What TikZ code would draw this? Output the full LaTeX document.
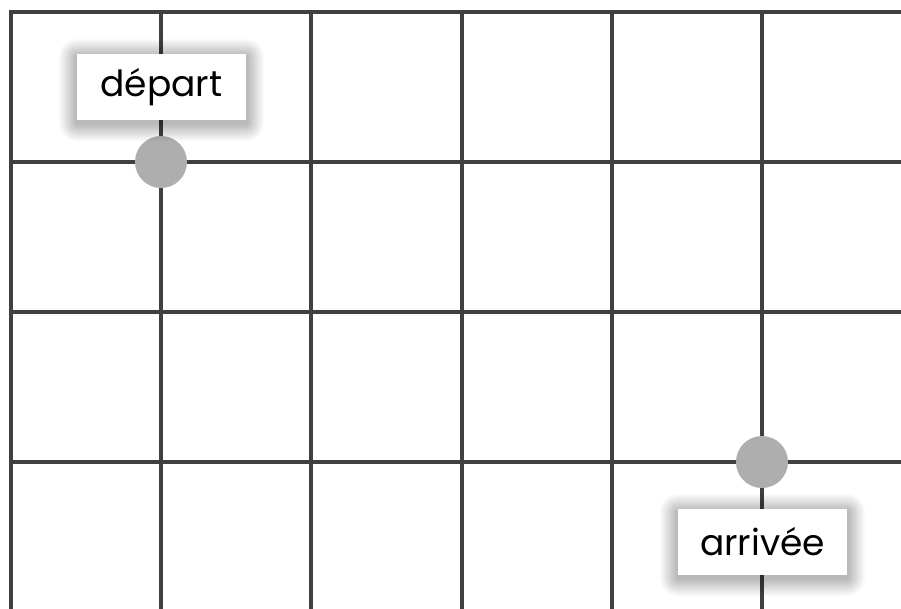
\documentclass[tikz,border=0pt]{standalone}
\usepackage{fontspec}
\setmainfont{Poppins}
\definecolor{gridc}{HTML}{404040}
\definecolor{dotc}{HTML}{AEAEAF}
\newcommand\mylabelshadow[2]{%
  \foreach \i in {1,...,18} {
    \fill[black,opacity=0.015,rounded corners={\i*0.75pt}]
      ({#1-84.5-\i},{#2-33-\i+3}) rectangle ({#1+84.5+\i},{#2+33+\i+3});
  }%
}
\begin{document}
\begin{tikzpicture}[x=0.75pt,y=-0.75pt,
  gridline/.style={draw=gridc,line width=3pt},
  dotmark/.style={circle,fill=dotc,minimum size=39pt,inner sep=0pt},
  labelbox/.style={fill=white,minimum width=126.75pt,minimum height=49.5pt,inner sep=0pt,
    font=\fontsize{27}{30}\selectfont}]
\useasboundingbox (0,0) rectangle (901,608);
\fill[white] (0,0) rectangle (901,608);
\begin{scope}
\clip (0,0) rectangle (901,608);
\foreach \k in {0,...,5} {
  \draw[gridline] ({11+150.2*\k},10) -- ({11+150.2*\k},620);
}
\foreach \k in {0,...,3} {
  \draw[gridline] (9,{12+150*\k}) -- (920,{12+150*\k});
}
\end{scope}
\node[dotmark] (dep) at (161,162) {};
\node[dotmark] (arr) at (762,462) {};
\mylabelshadow{161.5}{87}
\mylabelshadow{762.5}{542}
\node[labelbox] (ldep) at (161.5,87) {départ};
\node[labelbox] (larr) at (762.5,542) {arrivée};
\end{tikzpicture}
\end{document}
